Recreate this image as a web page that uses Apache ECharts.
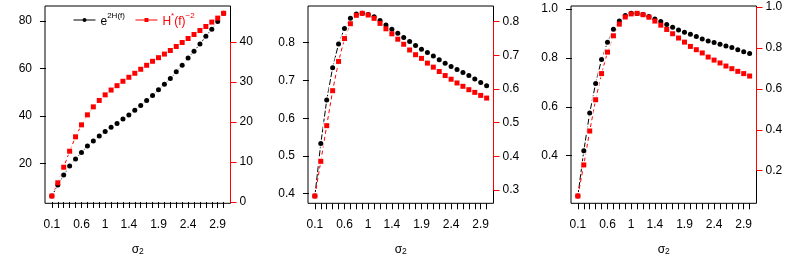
<!DOCTYPE html>
<html><head><meta charset="utf-8">
<script src="https://cdn.jsdelivr.net/npm/echarts@6/dist/echarts.min.js"></script>
<style>html,body{margin:0;padding:0;background:#fff}#c{width:789px;height:263px}</style>
</head><body><div id="c"></div>
<script>
// x values (sigma_2)
const sigma2 = [0.1,0.2,0.3,0.4,0.5,0.6,0.7,0.8,0.9,1.0,1.1,1.2,1.3,1.4,1.5,1.6,1.7,1.8,1.9,2.0,2.1,2.2,2.3,2.4,2.5,2.6,2.7,2.8,2.9,3.0];
const xTickLabels = [0.1,0.6,1,1.4,1.9,2.4,2.9];

// Panel 1
const p1Black = [6.2,10.8,15.1,18.9,21.8,24.6,27.3,29.4,31.5,33.4,35.2,36.8,38.7,40.4,42.4,44.4,46.5,48.6,51.0,53.4,55.8,58.6,61.4,64.4,67.3,70.3,73.6,76.6,79.8,83.3];
const p1Red = [1.5,4.8,8.7,12.7,16.3,19.3,21.8,23.8,25.4,26.8,28.0,29.1,30.2,31.2,32.2,33.2,34.2,35.2,36.1,37.0,37.9,38.9,39.9,40.9,41.9,42.9,43.9,45.0,46.0,47.2];
const p1LeftTicks = [20,40,60,80];
const p1RightTicks = [0,10,20,30,40];

// Panel 2
const p2Black = [0.394,0.533,0.648,0.734,0.797,0.838,0.865,0.876,0.878,0.875,0.869,0.859,0.847,0.836,0.825,0.814,0.803,0.793,0.783,0.774,0.765,0.755,0.746,0.737,0.729,0.721,0.713,0.704,0.695,0.686];
const p2Red = [0.282,0.385,0.491,0.595,0.682,0.750,0.794,0.819,0.825,0.820,0.810,0.795,0.779,0.764,0.748,0.733,0.716,0.702,0.691,0.677,0.665,0.652,0.640,0.629,0.618,0.608,0.598,0.590,0.581,0.573];
const p2LeftTicks = [0.4,0.5,0.6,0.7,0.8];
const p2RightTicks = [0.3,0.4,0.5,0.6,0.7,0.8];

// Panel 3
const p3Black = [0.235,0.420,0.575,0.696,0.794,0.864,0.918,0.951,0.974,0.983,0.982,0.978,0.970,0.960,0.949,0.937,0.926,0.915,0.905,0.897,0.888,0.878,0.870,0.863,0.856,0.849,0.843,0.834,0.826,0.818];
const p3Red = [0.076,0.228,0.394,0.547,0.675,0.780,0.860,0.917,0.952,0.967,0.970,0.963,0.951,0.932,0.912,0.891,0.870,0.849,0.829,0.808,0.792,0.776,0.756,0.741,0.727,0.712,0.699,0.686,0.675,0.663];
const p3LeftTicks = [0.4,0.6,0.8,1.0];
const p3RightTicks = [0.2,0.4,0.6,0.8,1.0];

const blackName = 'e2H(f)';
const redName = 'H*(f)-2';

const FONT = "'Liberation Sans', Arial, sans-serif";
const FS = 12;

function pad(arr){ const mn=Math.min(...arr), mx=Math.max(...arr), r=mx-mn; return [mn-0.04*r, mx+0.04*r]; }
function zip(xs, ys){ return xs.map((x,i)=>[x,ys[i]]); }

const panels = [
  {black:p1Black, red:p1Red, lt:p1LeftTicks, rt:p1RightTicks, dec:null},
  {black:p2Black, red:p2Red, lt:p2LeftTicks, rt:p2RightTicks, dec:1},
  {black:p3Black, red:p3Red, lt:p3LeftTicks, rt:p3RightTicks, dec:1}
];
const lefts = [45, 308, 571];
const xr = pad(sigma2);

const grid = [], xAxis = [], yAxis = [], series = [];
panels.forEach((p, i) => {
  grid.push({left:lefts[i], top:6, width:185.5, height:197.3, show:true, borderColor:'#000', borderWidth:1, backgroundColor:'transparent'});
  xAxis.push({
    type:'value', gridIndex:i, min:xr[0], max:xr[1],
    axisLine:{show:false},
    axisTick:{show:true, customValues:sigma2, length:6, lineStyle:{color:'#000'}},
    axisLabel:{customValues:xTickLabels, formatter:v=>String(+(+v).toFixed(1)), color:'#000', fontFamily:FONT, fontSize:FS, margin:15},
    splitLine:{show:false},
    name:'{s|σ}{sub|2}', nameLocation:'middle', nameGap:40,
    nameTextStyle:{rich:{s:{fontFamily:FONT, fontSize:FS, color:'#000'}, sub:{fontFamily:FONT, fontSize:8.5, color:'#000', verticalAlign:'bottom', padding:[4,0,0,0]}}}
  });
  const fmt = p.dec ? (v=>(+v).toFixed(p.dec)) : (v=>String(+v));
  const yl = pad(p.black), yr = pad(p.red);
  yAxis.push({
    type:'value', gridIndex:i, position:'left', min:yl[0], max:yl[1],
    axisLine:{show:false},
    axisTick:{show:true, customValues:p.lt, length:6, lineStyle:{color:'#000'}},
    axisLabel:{customValues:p.lt, formatter:fmt, color:'#000', fontFamily:FONT, fontSize:FS, margin:13},
    splitLine:{show:false}
  });
  yAxis.push({
    type:'value', gridIndex:i, position:'right', min:yr[0], max:yr[1],
    axisLine:{show:false},
    axisTick:{show:true, customValues:p.rt, length:6, lineStyle:{color:'#ff0000'}},
    axisLabel:{customValues:p.rt, formatter:fmt, color:'#000', fontFamily:FONT, fontSize:FS, margin:9},
    splitLine:{show:false}
  });
  const bd = zip(sigma2,p.black), rd = zip(sigma2,p.red);
  // dashed connecting lines (drawn underneath)
  series.push({name:'bline'+i, type:'line', xAxisIndex:i, yAxisIndex:2*i, data:bd, symbol:'none', silent:true,
    lineStyle:{color:'#000', width:1, type:[6,2]}, z:1});
  series.push({name:'rline'+i, type:'line', xAxisIndex:i, yAxisIndex:2*i+1, data:rd, symbol:'none', silent:true,
    lineStyle:{color:'#ff0000', width:1, type:[4,3]}, z:1,
    markLine:{silent:true, symbol:['none','none'], label:{show:false}, animation:false,
      lineStyle:{color:'#ff0000', type:'solid', width:1},
      data:[[{coord:[xr[1], p.rt[0]]},{coord:[xr[1], p.rt[p.rt.length-1]]}]]}});
  // white gaps around points (like R type="b")
  series.push({name:'bhalo'+i, type:'scatter', xAxisIndex:i, yAxisIndex:2*i, data:bd, symbol:'circle', symbolSize:8, silent:true,
    itemStyle:{color:'#fff'}, z:2});
  series.push({name:'rhalo'+i, type:'scatter', xAxisIndex:i, yAxisIndex:2*i+1, data:rd, symbol:'rect', symbolSize:8, silent:true,
    itemStyle:{color:'#fff'}, z:2});
  // points
  series.push({
    name:blackName, type:'line', xAxisIndex:i, yAxisIndex:2*i, data:bd,
    symbol:'circle', symbolSize:5, itemStyle:{color:'#000'},
    lineStyle:{color:'#000', width:1, opacity:0}, z:3
  });
  series.push({
    name:redName, type:'line', xAxisIndex:i, yAxisIndex:2*i+1, data:rd,
    symbol:'rect', symbolSize:5, itemStyle:{color:'#ff0000'},
    lineStyle:{color:'#ff0000', width:1, opacity:0}, z:4
  });
});

const chart = echarts.init(document.getElementById('c'), null, {renderer:'canvas'});
chart.setOption({
  animation:false,
  backgroundColor:'#fff',
  grid, xAxis, yAxis, series,
  legend:{
    left:73, top:12, itemWidth:22, itemHeight:5, itemGap:10, padding:0,
    lineStyle:{type:'solid', opacity:1, width:1},
    data:[blackName, redName],
    formatter:function(n){ return n===blackName ? '{b|e}{bs|2H(f)}' : '{r|H}{rs|*}{r|(f)}{rs|−2}'; },
    textStyle:{fontFamily:FONT, fontSize:FS, rich:{
      b:{fontFamily:FONT, fontSize:FS, color:'#000', lineHeight:16, verticalAlign:'bottom'},
      bs:{fontFamily:FONT, fontSize:8, color:'#000', lineHeight:16, verticalAlign:'top'},
      r:{fontFamily:FONT, fontSize:FS, color:'#ff0000', lineHeight:16, verticalAlign:'bottom'},
      rs:{fontFamily:FONT, fontSize:8, color:'#ff0000', lineHeight:16, verticalAlign:'top'}
    }}
  }
});
</script></body></html>
